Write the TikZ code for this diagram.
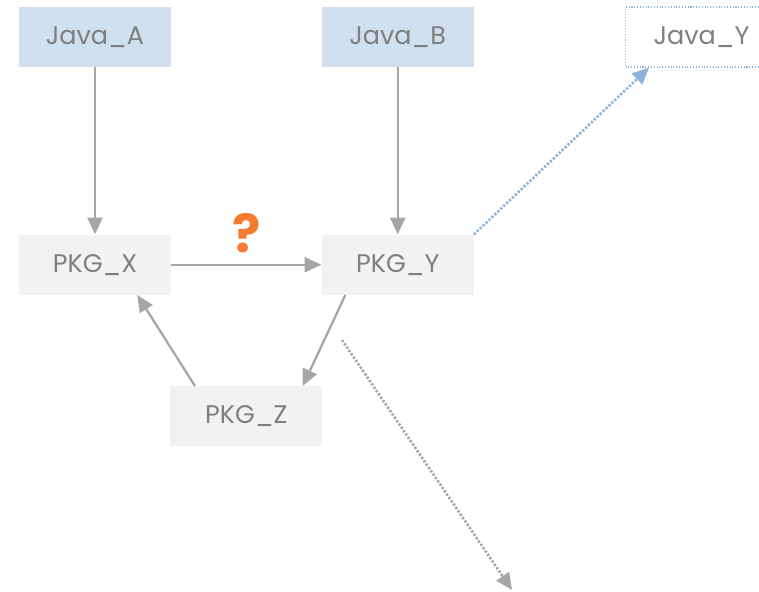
\documentclass[tikz,border=0pt]{standalone}
\usepackage{fontspec}
\setmainfont{Poppins}
\usepackage{tikz}
\usetikzlibrary{positioning}
\usetikzlibrary{calc}
\usetikzlibrary{arrows.meta}
\definecolor{javablue}{HTML}{D0E0EF}
\definecolor{pkggrey}{HTML}{F2F2F2}
\definecolor{linegrey}{HTML}{A6A6A6}
\definecolor{textgrey}{HTML}{7F7F7F}
\definecolor{dotblue}{HTML}{8DB3DA}
\definecolor{qorange}{HTML}{F47B30}
\tikzset{box/.style={minimum width=3.04cm, minimum height=1.2cm, inner sep=0pt, text=textgrey, font=\fontsize{14.5}{17}\selectfont}}
\tikzset{javabox/.style={box, fill=javablue}}
\tikzset{pkgbox/.style={box, fill=pkggrey}}
\tikzset{dep/.style={draw=linegrey, line width=1.3pt, -{Triangle[length=9.5pt,width=8.5pt]}}}

\begin{document}
\begin{tikzpicture}[node distance=3.34cm and 3cm]
\useasboundingbox (0,0) rectangle (15.18,-11.82);
\node[javabox] (javaA) at (1.9,-0.74) {Java\_A};
\node[javabox, right=of javaA] (javaB) {Java\_B};
\node[box, draw=dotblue, densely dotted, line width=0.6pt, right=3.02cm of javaB] (javaY) {Java\_Y};
\node[pkgbox, below=of javaA] (pkgX) {PKG\_X};
\node[pkgbox, below=of javaB] (pkgY) {PKG\_Y};
\coordinate (mid) at ($(pkgX.south)!0.5!(pkgY.south)$);
\node[pkgbox, below=1.82cm of mid, anchor=north] (pkgZ) {PKG\_Z};
\coordinate (far1) at (6.84,-6.8);
\coordinate (far2) at (10.24,-11.8);

\draw[dep] (javaA) -- (pkgX);
\draw[dep] (javaB) -- (pkgY);
\draw[dep] (pkgX) -- node[above=3pt, text=qorange, font=\fontsize{30}{30}\bfseries\selectfont] (qmark) {?} (pkgY);
\draw[dep] ([xshift=0.48cm]pkgY.south west) -- ([xshift=-0.4cm]pkgZ.north east);
\draw[dep] ([xshift=0.5cm]pkgZ.north west) -- ([xshift=-0.68cm]pkgX.south east);
\draw[dep, draw=dotblue, densely dotted, line width=1.5pt, -{Triangle[length=9.5pt,width=8.5pt,fill=dotblue]}] (pkgY.north east) -- ([xshift=0.48cm]javaY.south west);
\draw[dep, densely dotted, line width=1.5pt, -{Triangle[length=9.5pt,width=8.5pt]}] (far1) -- (far2);
\end{tikzpicture}
\end{document}
